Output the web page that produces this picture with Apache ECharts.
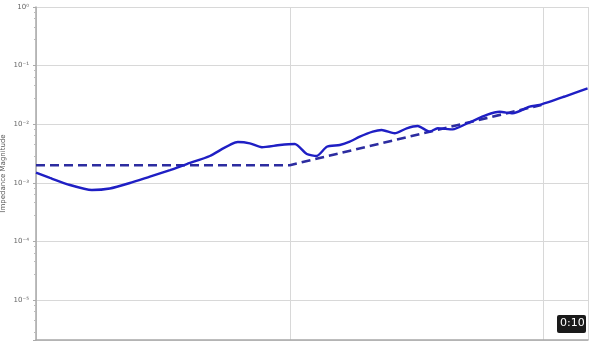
<!DOCTYPE html>
<html>
<head>
<meta charset="utf-8">
<script src="https://cdn.jsdelivr.net/npm/echarts@6/dist/echarts.min.js"></script>
<style>html,body{margin:0;padding:0;background:#fff}#c{width:594px;height:346px}</style>
</head>
<body>
<div id="c"></div>
<script>
// Frequency (Hz) and impedance magnitude
const measuredFreq = [1000, 1135, 1361, 1660, 1954, 2344, 2810, 3373, 3930, 4842, 6240, 6960, 7760, 9140, 10470, 11670, 12770, 13990, 15740, 17230, 18870, 21220, 23010, 25890, 28890, 31920, 35560, 38250, 43840, 50220, 59680, 67140, 75530, 88100, 96400, 121000, 149000];
const measuredZ = [1.49e-3, 1.21e-3, 9.17e-4, 7.54e-4, 8.0e-4, 9.93e-4, 1.28e-3, 1.65e-3, 2.09e-3, 2.87e-3, 4.97e-3, 4.72e-3, 4.04e-3, 4.42e-3, 4.59e-3, 3.10e-3, 2.87e-3, 4.13e-3, 4.42e-3, 5.03e-3, 6.12e-3, 7.45e-3, 7.96e-3, 7.0e-3, 8.51e-3, 9.31e-3, 7.45e-3, 8.51e-3, 8.18e-3, 1.04e-2, 1.44e-2, 1.63e-2, 1.53e-2, 1.99e-2, 2.13e-2, 2.97e-2, 4.10e-2];
const targetFreq = [1000, 10000, 98000];
const targetZ = [2.0e-3, 2.0e-3, 2.13e-2];
const yAxisName = 'Impedance Magnitude';
const xRange = [1000, 149600];
const yRange = [2.08e-6, 1];
const badgeText = '0:10';

const sup = {'0':'⁰','1':'¹','2':'²','3':'³','4':'⁴','5':'⁵','6':'⁶','7':'⁷','8':'⁸','9':'⁹','-':'⁻'};
function powLabel(v){
  const l = Math.log10(v); const e = Math.round(l);
  if (Math.abs(l - e) > 0.02) return '';
  return '10' + String(e).split('').map(c => sup[c]).join('');
}
const chart = echarts.init(document.getElementById('c'));
chart.setOption({
  animation: false,
  grid: {left: 36, right: 6, top: 7, bottom: 6, containLabel: false, outerBoundsMode: 'none'},
  xAxis: {
    type: 'log', min: xRange[0], max: xRange[1], logBase: 10,
    axisLine: {show: true, lineStyle: {color: '#a8a8a8', width: 1.5}},
    axisTick: {show: false}, axisLabel: {show: false},
    splitLine: {show: true, lineStyle: {color: '#d8d8d8', width: 1}}
  },
  yAxis: {
    type: 'log', min: yRange[0], max: yRange[1], logBase: 10,
    name: yAxisName, nameLocation: 'middle', nameGap: 29, nameMoveOverlap: false,
    nameTextStyle: {fontSize: 7, color: '#555', fontFamily: 'DejaVu Sans'},
    axisLine: {show: true, lineStyle: {color: '#a8a8a8', width: 1.5}},
    axisTick: {show: true, length: 3, lineStyle: {color: '#aaa'}},
    minorTick: {show: true, splitNumber: 5, length: 2, lineStyle: {color: '#bbb'}},
    axisLabel: {fontSize: 7, color: '#666', margin: 7, fontFamily: 'DejaVu Sans', formatter: powLabel},
    splitLine: {show: true, lineStyle: {color: '#d8d8d8', width: 1}}
  },
  series: [
    {
      type: 'line', data: targetFreq.map((f, i) => [f, targetZ[i]]),
      showSymbol: false, lineStyle: {color: '#2c2ca0', width: 2.6, type: [9, 5]}, z: 2
    },
    {
      type: 'line', data: measuredFreq.map((f, i) => [f, measuredZ[i]]),
      showSymbol: false, smooth: 0.2, lineStyle: {color: '#1f1fc4', width: 2.4}, z: 3
    }
  ],
  graphic: [
    {type: 'rect', left: 557, top: 315, shape: {width: 29, height: 18, r: 2}, style: {fill: '#1a1a1a'}, z: 100},
    {type: 'text', left: 560, top: 318, style: {text: badgeText, fill: '#fff', font: '11px "DejaVu Sans"'}, z: 101}
  ]
});
</script>
</body>
</html>
